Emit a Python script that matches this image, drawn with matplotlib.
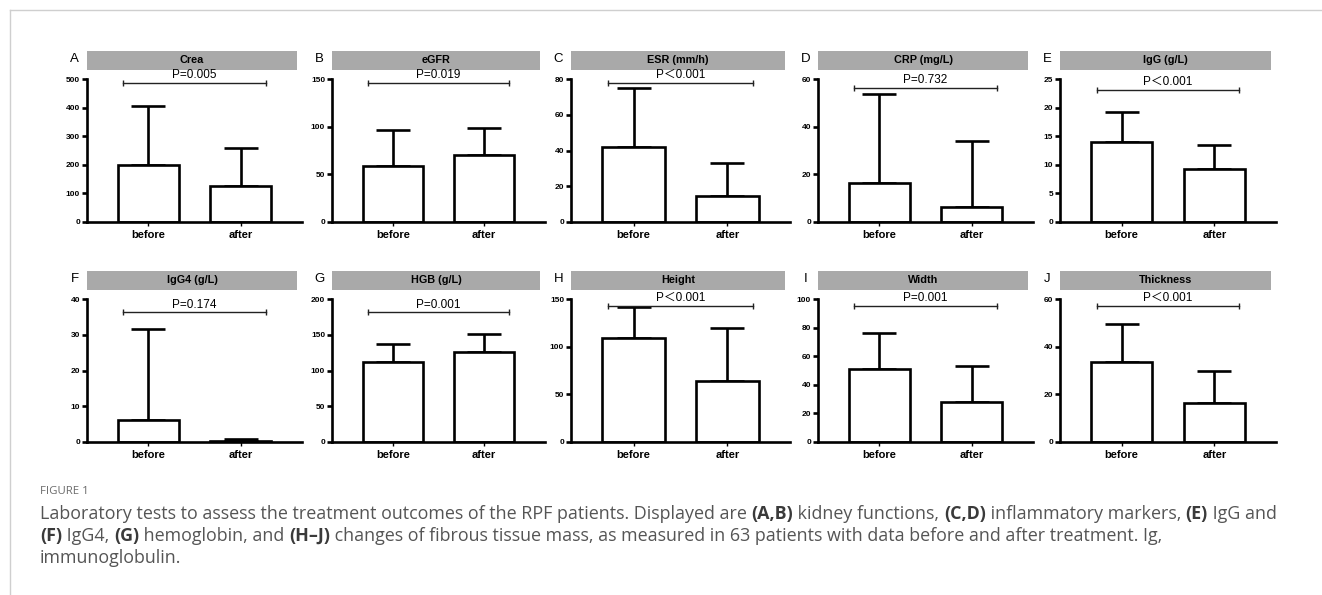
import matplotlib
matplotlib.use("Agg")
import matplotlib.pyplot as plt
from matplotlib.lines import Line2D
from matplotlib.patches import Rectangle

# ---------------- data ----------------
letters = ["A", "B", "C", "D", "E", "F", "G", "H", "I", "J"]
titles = ["Crea", "eGFR", "ESR (mm/h)", "CRP (mg/L)", "IgG (g/L)",
          "IgG4 (g/L)", "HGB (g/L)", "Height", "Width", "Thickness"]
groups = ["before", "after"]
mean_before = [200, 59, 42, 16.5, 14.0, 6.2, 112, 109, 51, 33.5]
mean_after = [125, 70, 14.5, 6.5, 9.2, 0.3, 126, 64, 28, 16.5]
upper_before = [405, 96, 75, 53.5, 19.3, 31.6, 137, 142, 76, 49.5]
upper_after = [258, 99, 33, 34, 13.5, 0.9, 151, 120, 53, 30]
y_max = [500, 150, 80, 60, 25, 40, 200, 150, 100, 60]
y_step = [100, 50, 20, 20, 5, 10, 50, 50, 20, 20]
p_text = ["P=0.005", "P=0.019", "P\uff1c0.001", "P=0.732", "P\uff1c0.001",
          "P=0.174", "P=0.001", "P\uff1c0.001", "P=0.001", "P\uff1c0.001"]

# ---------------- layout ----------------
W, H = 1322, 595
fig = plt.figure(figsize=(W / 100, H / 100), dpi=100)
fig.patch.set_facecolor("white")

col_x = [87, 332, 571, 818, 1060]
col_w = [215, 213, 219, 215, 216]
row_zero = [222, 442]
ax_h = 143
bracket_frac = [0.972, 0.972, 0.972, 0.936, 0.923, 0.906, 0.906, 0.953, 0.953, 0.953]

chart_font = ["Liberation Sans", "Noto Sans CJK SC", "DejaVu Sans"]
LW = 1.9

for i in range(10):
    r, c = divmod(i, 5)
    x0 = col_x[c]
    w = col_w[c]
    y0 = row_zero[r]
    ax = fig.add_axes([x0 / W, 1 - y0 / H, w / W, ax_h / H])
    xs = [0, 1]
    means = [mean_before[i], mean_after[i]]
    ups = [upper_before[i], upper_after[i]]
    err = [[0, 0], [ups[0] - means[0], ups[1] - means[1]]]
    ax.errorbar(xs, means, yerr=err, fmt="none", ecolor="black",
                elinewidth=LW, capsize=12, capthick=LW, zorder=1)
    ax.bar(xs, means, width=0.66, color="white", edgecolor="black",
           linewidth=LW, zorder=2)
    ax.set_xlim(-0.665, 1.665)
    ax.set_ylim(0, y_max[i])
    ticks = list(range(0, y_max[i] + 1, y_step[i]))
    ax.set_yticks(ticks)
    ax.set_yticklabels([str(t) for t in ticks], fontsize=6,
                       fontweight="bold", family=chart_font)
    ax.set_xticks(xs)
    ax.set_xticklabels(groups, fontsize=8, fontweight="bold",
                       family=chart_font)
    for s in ["top", "right"]:
        ax.spines[s].set_visible(False)
    for s in ["left", "bottom"]:
        ax.spines[s].set_linewidth(LW)
    ax.tick_params(axis="y", length=3.5, width=LW, pad=1.5)
    ax.tick_params(axis="x", length=3, width=1.0, pad=3)

    # title bar
    ax.add_patch(Rectangle((0, 1.063), 0.977, 0.133, transform=ax.transAxes,
                           facecolor="#a9a9a9", edgecolor="none",
                           clip_on=False, zorder=0))
    ax.text(0.4885, 1.13, titles[i], transform=ax.transAxes, ha="center",
            va="center", fontsize=7.8, fontweight="bold", family=chart_font)
    ax.text(-0.058, 1.14, letters[i], transform=ax.transAxes, ha="center",
            va="center", fontsize=9.5, family=chart_font)

    # p-value bracket
    yb = bracket_frac[i] * y_max[i]
    ax.plot([-0.27, 1.27], [yb, yb], color="#222222", lw=1.0,
            marker="|", markersize=4.5, markeredgewidth=1.0, clip_on=False)
    ax.annotate(p_text[i], (0.5, yb), xytext=(0, 1.2),
                textcoords="offset points", ha="center", va="bottom",
                fontsize=8.5, family=chart_font, annotation_clip=False)

# frame lines
fig.add_artist(Line2D([10 / W, 1], [1 - 10 / H, 1 - 10 / H],
                      transform=fig.transFigure, color="#cfcfcf", lw=1))
fig.add_artist(Line2D([10 / W, 10 / W], [0, 1 - 10 / H],
                      transform=fig.transFigure, color="#cfcfcf", lw=1))

# ---------------- caption ----------------
cap_font = ["Open Sans", "DejaVu Sans"]
fig.text(40 / W, 1 - 491 / H, "FIGURE 1", fontsize=8.2, color="#6b6b6b",
         family=cap_font, va="center", ha="left")

lines = [
    [("Laboratory tests to assess the treatment outcomes of the RPF patients. Displayed are ", False),
     ("(A,B)", True), (" kidney functions, ", False), ("(C,D)", True),
     (" inflammatory markers, ", False), ("(E)", True), (" IgG and", False)],
    [("(F)", True), (" IgG4, ", False), ("(G)", True), (" hemoglobin, and ", False),
     ("(H\u2013J)", True),
     (" changes of fibrous tissue mass, as measured in 63 patients with data before and after treatment. Ig,", False)],
    [("immunoglobulin.", False)],
]
line_y = [514, 536, 558]

renderer = fig.canvas.get_renderer()


def seg_width(txt, bold, size):
    t1 = fig.text(0, 0, "a" + txt + "a", fontsize=size, family=cap_font,
                  fontweight="bold" if bold else "normal")
    t2 = fig.text(0, 0, "aa", fontsize=size, family=cap_font,
                  fontweight="bold" if bold else "normal")
    w = t1.get_window_extent(renderer).width - t2.get_window_extent(renderer).width
    t1.remove()
    t2.remove()
    return w


base = 10.0
w0 = sum(seg_width(t, b, base) for t, b in lines[0])
size = base * 1242.0 / w0

for segs, ly in zip(lines, line_y):
    x = 40.0
    for txt, bold in segs:
        fig.text(x / W, 1 - ly / H, txt, fontsize=size, family=cap_font,
                 fontweight="bold" if bold else "normal",
                 color="#3a3a3a" if bold else "#555555",
                 va="center", ha="left")
        x += seg_width(txt, bold, size)

fig.savefig("out.png", dpi=100, facecolor="white")
